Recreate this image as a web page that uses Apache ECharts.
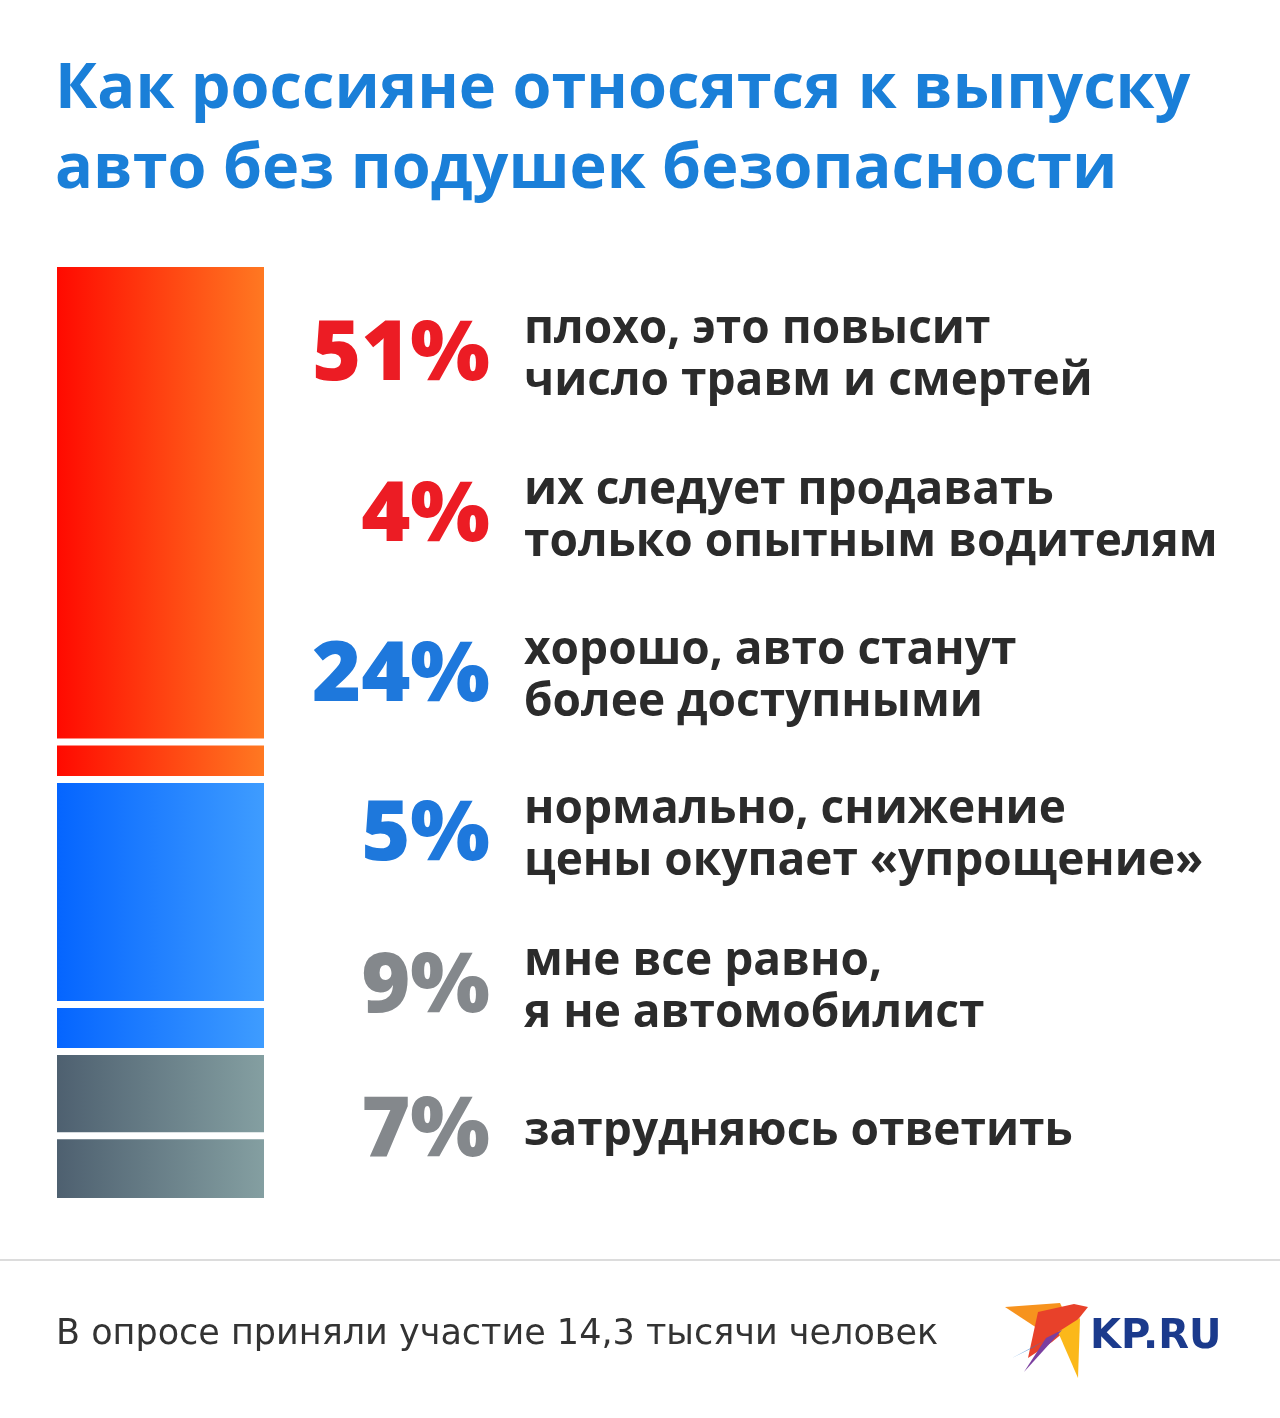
<!DOCTYPE html>
<html><head><meta charset="utf-8">
<script src="https://cdn.jsdelivr.net/npm/echarts@6/dist/echarts.min.js"></script>
<style>html,body{margin:0;padding:0;background:#fff}#c{width:1280px;height:1418px}</style>
</head><body><div id="c"></div>
<script>
const titleLines = ['Как россияне относятся к выпуску', 'авто без подушек безопасности'];
const categories = ['Опрос'];
const answers = [
  'плохо, это повысит\nчисло травм и смертей',
  'их следует продавать\nтолько опытным водителям',
  'хорошо, авто станут\nболее доступными',
  'нормально, снижение\nцены окупает «упрощение»',
  'мне все равно,\nя не автомобилист',
  'затрудняюсь ответить'
];
const values = [51, 4, 24, 5, 9, 7];
const groups = ['red', 'red', 'blue', 'blue', 'gray', 'gray'];
const footnote = 'В опросе приняли участие 14,3 тысячи человек';
const brand = 'KP.RU';

const grads = {
  red: ['#ff0800', '#ff7a22'],
  blue: ['#0464ff', '#3f9dff'],
  gray: ['#4d5f6f', '#85a0a2']
};
const labelColors = { red: '#ec1c24', blue: '#1e78dc', gray: '#84888c' };
const labelY = [356, 517, 677, 836, 988, 1132];

const chart = echarts.init(document.getElementById('c'), null, { renderer: 'canvas' });

const series = values.map((v, i) => ({
  type: 'bar',
  stack: 'all',
  name: answers[i],
  barWidth: 214,
  data: [v],
  itemStyle: {
    color: new echarts.graphic.LinearGradient(0, 0, 1, 0, [
      { offset: 0, color: grads[groups[i]][0] },
      { offset: 1, color: grads[groups[i]][1] }
    ]),
    borderColor: '#ffffff',
    borderWidth: 3.5
  },
  silent: true
}));

const graphics = [];
titleLines.forEach((t, i) => {
  graphics.push({
    type: 'text', left: 55, top: 59 + i * 80,
    style: { text: t, fill: '#1a7fd8', font: 'bold 63px "Open Sans", sans-serif' }
  });
});
values.forEach((v, i) => {
  graphics.push({
    type: 'text', x: 490, y: labelY[i],
    style: { text: v + '%', fill: labelColors[groups[i]], font: '800 84px "Open Sans", sans-serif',
      align: 'right', verticalAlign: 'middle' }
  });
  graphics.push({
    type: 'text', x: 524, y: labelY[i],
    style: { text: answers[i], fill: '#2b2b2b', font: 'bold 46px "Open Sans", sans-serif',
      lineHeight: 52, align: 'left', verticalAlign: 'middle' }
  });
});
graphics.push({ type: 'rect', shape: { x: 0, y: 1259, width: 1280, height: 2 }, style: { fill: '#dcdcdc' } });
graphics.push({ type: 'text', x: 56, y: 1335,
  style: { text: footnote, fill: '#333333', font: '35px "DejaVu Sans", sans-serif', verticalAlign: 'middle' } });
// logo bird
const bird = [
  { pts: [[1005,1307],[1060,1303],[1068,1320],[1040,1330]], c: '#f7931e' },
  { pts: [[1038,1312],[1074,1304],[1088,1307],[1076,1322],[1052,1342],[1028,1358]], c: '#e8412a' },
  { pts: [[1058,1332],[1080,1318],[1078,1378]], c: '#fbb81a' },
  { pts: [[1046,1338],[1062,1330],[1024,1372]], c: '#7b3fa0' },
  { pts: [[1032,1348],[1046,1340],[1012,1358]], c: '#2c7fd0' }
];
bird.forEach(b => graphics.push({ type: 'polygon', shape: { points: b.pts }, style: { fill: b.c } }));
graphics.push({ type: 'text', x: 1090, y: 1338,
  style: { text: brand, fill: '#1b3a8c', font: 'bold 40px "DejaVu Sans", sans-serif', verticalAlign: 'middle' } });

chart.setOption({
  animation: false,
  backgroundColor: '#ffffff',
  grid: { left: 53.5, width: 214, top: 263.5, height: 938 },
  xAxis: { type: 'category', data: categories, show: false },
  yAxis: { type: 'value', min: 0, max: 100, inverse: true, show: false },
  series: series,
  graphic: graphics
});
</script></body></html>
